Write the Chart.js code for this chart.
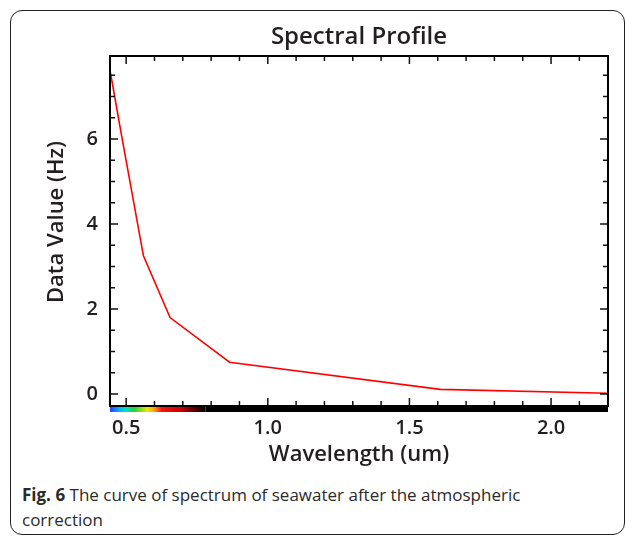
<!DOCTYPE html>
<html lang="en">
<head>
  <meta charset="UTF-8">
  <title>Spectral Profile</title>
  <script src="https://cdn.jsdelivr.net/npm/chart.js"></script>
  <style>
    body { margin: 0; background: #fff; font-family: "Open Sans", sans-serif; }
    #frame { position: absolute; left: 10px; top: 10px; width: 613px; height: 523px;
             border: 1.5px solid #231f20; border-radius: 12px; }
    #wrap { position: absolute; left: 0; top: 0; width: 635px; height: 470px; }
    #caption { position: absolute; left: 22px; top: 482px; width: 530px; margin: 0;
               font-size: 17px; line-height: 25px; color: #2a2a2a; }
    #caption b { font-weight: 700; }
  </style>
</head>
<body>
  <div id="frame"></div>
  <div id="wrap"><canvas id="grafico" width="635" height="470"></canvas></div>
  <p id="caption"><b>Fig. 6</b> The curve of spectrum of seawater after the atmospheric correction</p>

  <script>
    // Landsat band centres (um) and the profile
    const wavelengths = [0.443, 0.482, 0.561, 0.655, 0.865, 1.609, 2.201];
    const dataValues  = [7.62, 6.15, 3.25, 1.80, 0.75, 0.11, 0.02];
    const xTicks = [0.5, 1.0, 1.5, 2.0];
    const yTicks = [0, 2, 4, 6];
    const xRange = [0.443, 2.201];
    const yRange = [-0.28, 7.95];

    const txt = "#231f20";
    const fnt = "'Open Sans', 'DejaVu Sans', sans-serif";

    // frame, inside ticks, titles and the wavelength colour strip under the axis
    const frameTicks = {
      id: "frameTicks",
      afterDatasetsDraw(chart) {
        const { ctx, chartArea: a, scales: { x, y } } = chart;
        ctx.save();

        // colour strip
        const x0 = x.getPixelForValue(xRange[0]);
        const x1 = x.getPixelForValue(0.78);
        const g = ctx.createLinearGradient(x0, 0, x1, 0);
        const stops = [
          [0.443, "#2b3cff"], [0.475, "#00b4ff"], [0.50, "#00e0c0"], [0.53, "#30d030"],
          [0.575, "#e8e800"], [0.60, "#ff9a00"], [0.625, "#ff1010"], [0.69, "#d00000"],
          [0.78, "#000000"]
        ];
        stops.forEach(([w, c]) => g.addColorStop((w - 0.443) / (0.78 - 0.443), c));
        ctx.fillStyle = g;
        ctx.fillRect(x0, a.bottom, x1 - x0, 6);
        ctx.fillStyle = "#000";
        ctx.fillRect(x1, a.bottom, x.getPixelForValue(xRange[1]) - x1, 6);

        ctx.strokeStyle = "#111";
        ctx.lineWidth = 1.5;
        // x ticks top and bottom
        for (let v = 0.5; v <= 2.2; v += 0.1) {
          const px = x.getPixelForValue(v);
          const major = Math.abs(v * 2 - Math.round(v * 2)) < 1e-6;
          const len = major ? 8 : 5;
          ctx.beginPath();
          ctx.moveTo(px, a.bottom); ctx.lineTo(px, a.bottom - len);
          ctx.moveTo(px, a.top); ctx.lineTo(px, a.top + len);
          ctx.stroke();
        }
        // y ticks left and right
        for (let v = 0; v <= 7.9; v += 0.5) {
          const py = y.getPixelForValue(v);
          const major = Math.abs(v / 2 - Math.round(v / 2)) < 1e-6;
          const len = major ? 8 : 5;
          ctx.beginPath();
          ctx.moveTo(a.left, py); ctx.lineTo(a.left + len, py);
          ctx.moveTo(a.right, py); ctx.lineTo(a.right - len, py);
          ctx.stroke();
        }
        ctx.lineWidth = 2;
        ctx.strokeStyle = "#000";
        ctx.strokeRect(a.left, a.top, a.right - a.left, a.bottom - a.top);

        // titles centred the way the original plot does it
        ctx.fillStyle = txt;
        ctx.textAlign = "center";
        ctx.textBaseline = "middle";
        ctx.font = "600 24px " + fnt;
        ctx.fillText("Spectral Profile", (a.left + a.right) / 2, 37);
        ctx.font = "600 22px " + fnt;
        ctx.translate(57, 222);
        ctx.rotate(-Math.PI / 2);
        ctx.fillText("Data Value (Hz)", 0, 0);
        ctx.restore();
      }
    };

    const ctx = document.getElementById("grafico").getContext("2d");
    const grafico = new Chart(ctx, {
      type: "scatter",
      data: {
        datasets: [{
          data: wavelengths.map((w, i) => ({ x: w, y: dataValues[i] })),
          showLine: true,
          borderColor: "#ff0000",
          borderWidth: 1.6,
          pointRadius: 0,
          tension: 0
        }]
      },
      options: {
        responsive: false,
        animation: false,
        layout: { padding: { left: 0, right: 27, top: 56, bottom: 0 } },
        plugins: {
          legend: { display: false },
          tooltip: { enabled: false }
        },
        scales: {
          x: {
            type: "linear",
            min: xRange[0],
            max: xRange[1],
            grid: { display: false, drawTicks: false },
            border: { display: false },
            afterBuildTicks: s => { s.ticks = xTicks.map(v => ({ value: v })); },
            afterFit: s => { s.height = 64; },
            ticks: {
              color: txt,
              padding: 10,
              font: { family: fnt, size: 20, weight: "600" },
              callback: v => v.toFixed(1)
            },
            title: {
              display: true,
              text: "Wavelength (um)",
              color: txt,
              font: { family: fnt, size: 22, weight: "600" },
              padding: { top: 0, bottom: 2 }
            }
          },
          y: {
            min: yRange[0],
            max: yRange[1],
            grid: { display: false, drawTicks: false },
            border: { display: false },
            afterBuildTicks: s => { s.ticks = yTicks.map(v => ({ value: v })); },
            afterFit: s => { s.width = 110; },
            ticks: {
              color: txt,
              padding: 12,
              font: { family: fnt, size: 20, weight: "600" },
              callback: v => String(v)
            }
          }
        }
      },
      plugins: [frameTicks]
    });
  </script>
</body>
</html>
